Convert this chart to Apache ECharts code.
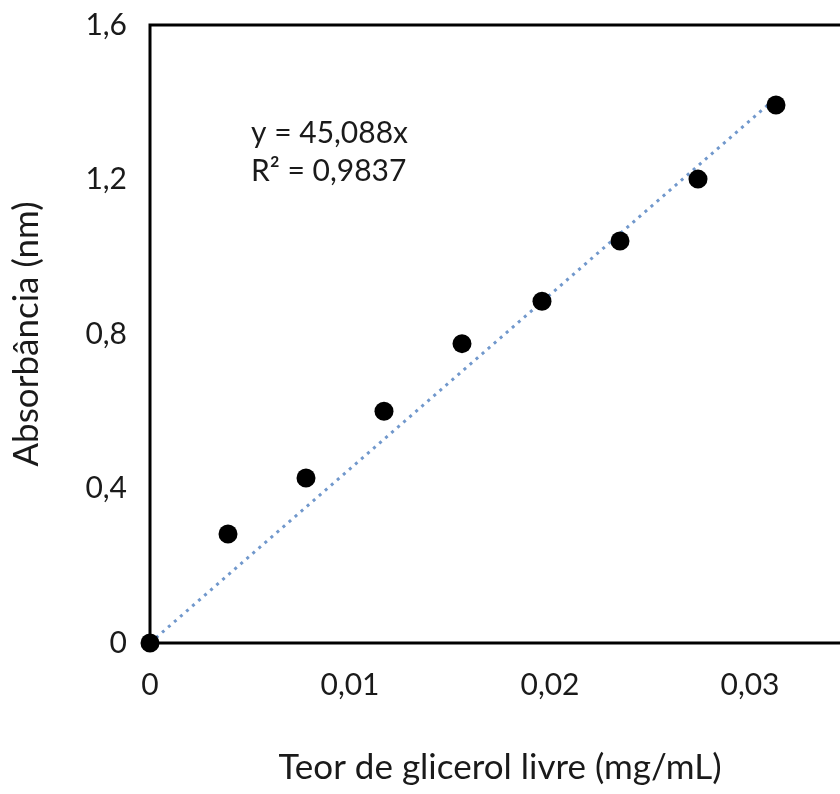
<!DOCTYPE html>
<html>
<head>
<meta charset="utf-8">
<script src="https://cdn.jsdelivr.net/npm/echarts@6/dist/echarts.min.js"></script>
<style>
  html, body { margin: 0; padding: 0; background: #ffffff; }
  #chart { width: 840px; height: 794px; }
</style>
</head>
<body>
<div id="chart"></div>
<script>
// Glycerol calibration curve: concentration (mg/mL) vs absorbance
const concentration = [0, 0.0039, 0.0078, 0.0117, 0.0156, 0.0196, 0.0235, 0.0274, 0.0313];
const absorbance    = [0, 0.282, 0.427, 0.600, 0.775, 0.885, 1.041, 1.201, 1.393];

// Linear fit through the origin, as printed on the chart
const slope = 45.088;
const rSquared = 0.9837;

const xTicks = [0, 0.01, 0.02, 0.03];
const yTicks = [0, 0.4, 0.8, 1.2, 1.6];

const xTitle = 'Teor de glicerol livre (mg/mL)';
const yTitle = 'Absorbância (nm)';

const fmt = v => String(+v.toFixed(4)).replace('.', ',');

const points = concentration.map((x, i) => [x, absorbance[i]]);
const xLast = concentration[concentration.length - 1];
const trend = [[0, 0], [xLast, slope * xLast]];

const FONT = 'Lato, "Open Sans", sans-serif';
const chart = echarts.init(document.getElementById('chart'), null, { renderer: 'canvas' });

chart.setOption({
  backgroundColor: '#ffffff',
  animation: false,
  grid: {
    left: 150, top: 25, width: 700, height: 618,
    outerBoundsMode: 'none',
    show: true, borderColor: '#000000', borderWidth: 3, backgroundColor: 'transparent'
  },
  xAxis: {
    type: 'value',
    min: xTicks[0], max: 0.035, interval: xTicks[1] - xTicks[0],
    axisLine: { show: true, lineStyle: { color: '#000', width: 2 } },
    axisTick: { show: false },
    splitLine: { show: false },
    axisLabel: {
      margin: 27, color: '#1a1a1a', fontFamily: FONT, fontSize: 30,
      showMaxLabel: false,
      formatter: v => fmt(v)
    },
    name: xTitle, nameLocation: 'middle', nameGap: 107,
    nameTextStyle: { color: '#1a1a1a', fontFamily: FONT, fontSize: 35 }
  },
  yAxis: {
    type: 'value',
    min: yTicks[0], max: yTicks[yTicks.length - 1], interval: yTicks[1] - yTicks[0],
    axisLine: { show: true, lineStyle: { color: '#000', width: 2 } },
    axisTick: { show: false },
    splitLine: { show: false },
    axisLabel: {
      margin: 23, color: '#1a1a1a', fontFamily: FONT, fontSize: 30,
      formatter: v => fmt(v)
    },
    name: yTitle, nameLocation: 'middle', nameGap: 106, nameRotate: 90,
    nameTextStyle: { color: '#1a1a1a', fontFamily: FONT, fontSize: 35 }
  },
  graphic: [{
    type: 'text',
    left: 251, top: 114,
    style: {
      text: 'y = ' + fmt(slope) + 'x\nR² = ' + fmt(rSquared),
      fontFamily: FONT, fontSize: 30, lineHeight: 38, fill: '#1a1a1a'
    }
  }],
  series: [
    {
      name: 'Linear',
      type: 'line',
      data: trend,
      symbol: 'none',
      lineStyle: { color: '#7198cc', width: 3, type: [3, 5] },
      z: 2
    },
    {
      name: 'Absorbância',
      type: 'scatter',
      data: points,
      symbol: 'circle',
      symbolSize: 19,
      itemStyle: { color: '#000000', opacity: 1 },
      z: 3
    }
  ]
});
</script>
</body>
</html>
